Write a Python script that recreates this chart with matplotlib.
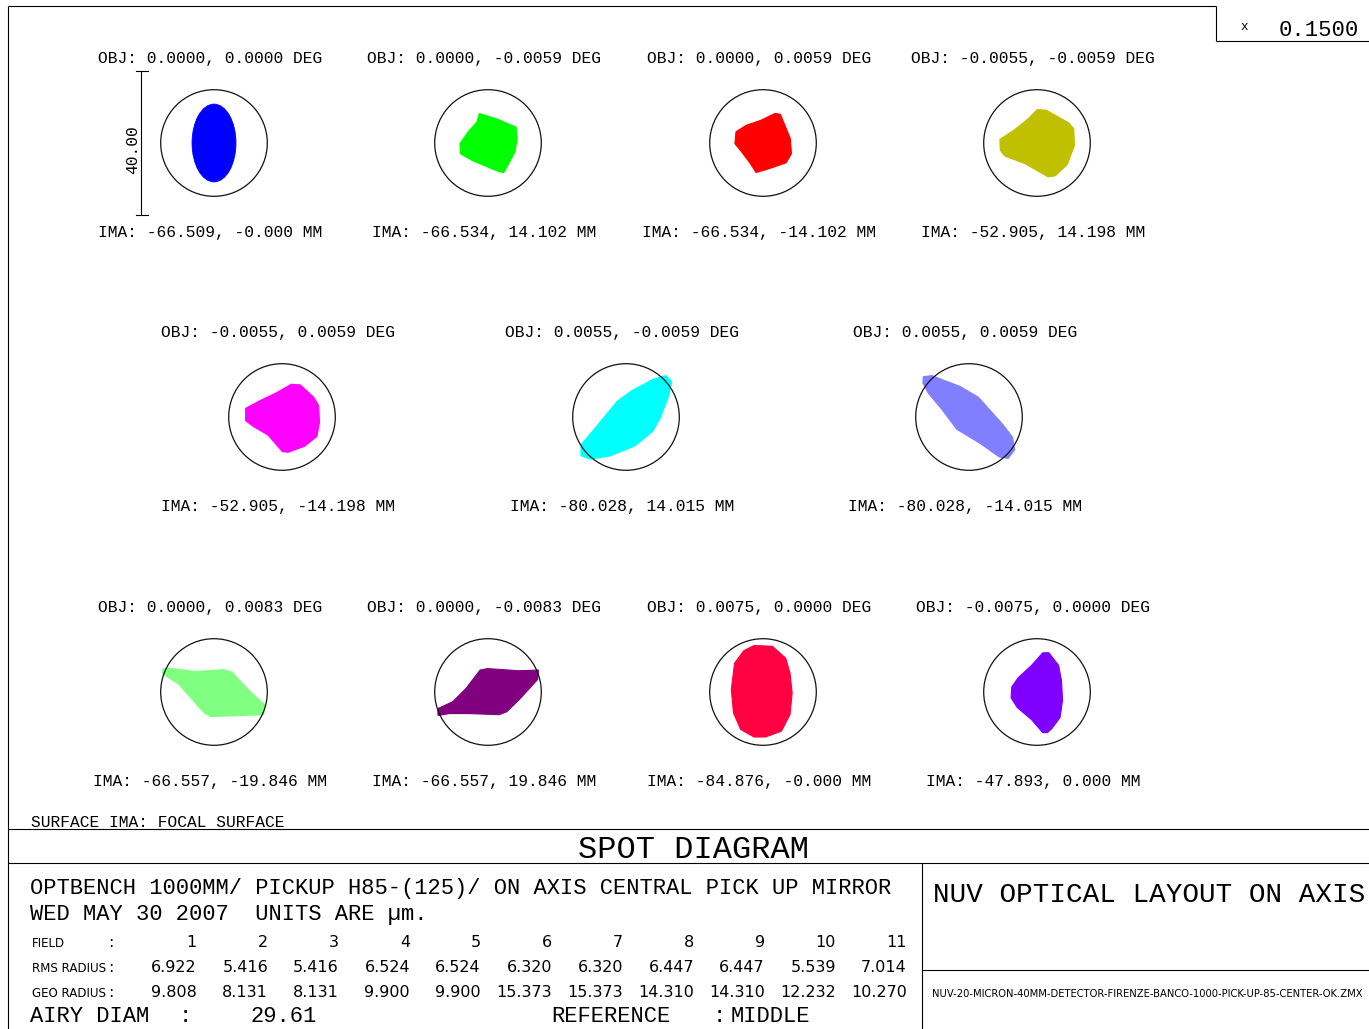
import matplotlib
matplotlib.use("Agg")
import matplotlib.pyplot as plt
from matplotlib.patches import Circle, Ellipse, Polygon
from matplotlib import font_manager

# ---------------- data ----------------
airy_diam_um = 29.61
scale_bar_um = 40.00
plot_scale = 0.1500

field_numbers = [1, 2, 3, 4, 5, 6, 7, 8, 9, 10, 11]
rms_radius = [6.922, 5.416, 5.416, 6.524, 6.524, 6.320, 6.320, 6.447, 6.447, 5.539, 7.014]
geo_radius = [9.808, 8.131, 8.131, 9.900, 9.900, 15.373, 15.373, 14.310, 14.310, 12.232, 10.270]

obj_labels = [
    "OBJ: 0.0000, 0.0000 DEG",
    "OBJ: 0.0000, -0.0059 DEG",
    "OBJ: 0.0000, 0.0059 DEG",
    "OBJ: -0.0055, -0.0059 DEG",
    "OBJ: -0.0055, 0.0059 DEG",
    "OBJ: 0.0055, -0.0059 DEG",
    "OBJ: 0.0055, 0.0059 DEG",
    "OBJ: 0.0000, 0.0083 DEG",
    "OBJ: 0.0000, -0.0083 DEG",
    "OBJ: 0.0075, 0.0000 DEG",
    "OBJ: -0.0075, 0.0000 DEG",
]
ima_labels = [
    "IMA: -66.509, -0.000 MM",
    "IMA: -66.534, 14.102 MM",
    "IMA: -66.534, -14.102 MM",
    "IMA: -52.905, 14.198 MM",
    "IMA: -52.905, -14.198 MM",
    "IMA: -80.028, 14.015 MM",
    "IMA: -80.028, -14.015 MM",
    "IMA: -66.557, -19.846 MM",
    "IMA: -66.557, 19.846 MM",
    "IMA: -84.876, -0.000 MM",
    "IMA: -47.893, 0.000 MM",
]
spot_colors = ["#0000ff", "#00ff00", "#ff0000", "#c0c000", "#ff00ff", "#00ffff",
               "#8080ff", "#80ff80", "#800080", "#ff0040", "#8000ff"]

# field 1: elliptical spot (full width, full height in um)
spot1_size = (12.2, 21.6)

# fields 2..11: spot outlines, (x, y) in um relative to the chief ray
spot2 = [(-2.4, 8.2), (2.4, 6.7), (7.8, 4.4), (8.1, 1.2), (7.5, -2.5), (4.4, -8.2),
         (2.9, -7.9), (-4.5, -4.8), (-7.6, -3.0), (-7.8, -0.2), (-5.5, 3.1), (-3.1, 5.8)]
spot3 = [(3.3, 8.2), (4.8, 8.0), (6.1, 4.9), (7.6, 1.2), (7.9, -3.0), (6.4, -5.5),
         (1.8, -7.1), (-1.9, -8.2), (-3.8, -5.3), (-6.3, -2.0), (-7.8, -0.2), (-7.5, 3.1),
         (-4.7, 4.9), (-0.6, 6.3)]
spot4 = [(0.1, 9.3), (2.6, 9.1), (8.8, 5.6), (10.2, 4.0), (10.4, -0.7), (8.4, -6.0),
         (5.1, -9.1), (3.1, -9.4), (-3.4, -5.7), (-9.0, -3.6), (-10.2, -2.0), (-10.3, 1.0),
         (-6.2, 3.7), (-2.5, 6.7)]
spot5 = [(2.6, 9.1), (5.1, 8.9), (8.8, 5.5), (10.2, 3.1), (10.4, -1.5), (9.7, -5.4),
         (6.3, -8.1), (1.7, -9.8), (0.1, -9.6), (-3.9, -5.0), (-8.0, -2.6), (-10.1, -1.0),
         (-10.1, 2.4), (-6.2, 4.5), (-1.6, 6.7)]
spot6 = [(11.1, 11.5), (12.7, 9.8), (11.8, 5.7), (9.5, -0.3), (7.4, -4.0), (2.5, -8.0),
         (-4.4, -10.8), (-9.9, -11.7), (-12.5, -10.8), (-12.5, -7.7), (-9.0, -3.6),
         (-4.4, 2.0), (-2.5, 4.3), (1.6, 7.3), (7.6, 10.5)]
spot7 = [(-12.7, 11.2), (-10.3, 11.5), (-6.7, 10.1), (-2.5, 8.5), (2.6, 5.5), (9.5, -2.2),
         (12.1, -5.6), (12.7, -9.1), (10.9, -11.5), (8.4, -11.1), (3.2, -7.4), (-3.4, -3.4),
         (-7.6, 2.2), (-11.3, 6.6), (-12.8, 9.4)]
spot8 = [(-14.2, 6.4), (-12.6, 6.6), (-5.2, 5.7), (2.7, 6.2), (5.0, 5.5), (9.6, 0.6),
         (14.0, -3.5), (13.8, -6.3), (5.9, -6.6), (-1.0, -6.8), (-2.9, -5.6), (-7.0, -1.0),
         (-9.8, 2.2), (-14.2, 5.0)]
spot9 = [(-2.2, 6.1), (-0.1, 6.5), (8.7, 5.9), (14.0, 6.1), (13.8, 3.5), (8.7, -2.1),
         (5.2, -5.5), (3.1, -6.3), (-5.2, -6.0), (-10.7, -6.0), (-13.9, -6.5), (-13.9, -4.6),
         (-9.8, -2.7), (-6.1, 1.0), (-3.8, 4.0)]
spot10 = [(-2.5, 12.9), (2.6, 12.7), (6.3, 9.4), (7.5, 5.3), (8.1, -0.3), (7.5, -6.3),
          (5.1, -10.9), (0.7, -12.5), (-2.5, -12.5), (-6.2, -10.4), (-8.2, -5.8),
          (-8.8, 0.7), (-7.9, 8.0), (-5.3, 11.5)]
spot11 = [(1.6, 10.9), (3.3, 10.9), (6.0, 7.4), (6.8, 3.2), (7.1, -2.3), (6.4, -7.1),
          (4.1, -10.2), (2.9, -11.3), (1.6, -11.3), (-1.5, -7.7), (-5.5, -4.3), (-7.2, -1.6),
          (-7.0, 1.4), (-5.2, 4.0), (-1.5, 7.4)]
spot_outlines = [None, spot2, spot3, spot4, spot5, spot6, spot7, spot8, spot9, spot10, spot11]

# ---------------- layout ----------------
W, H, DPI = 1369, 1029, 100
PX_PER_UM = 3.6
row_y = [143, 417, 692]
row_x = [[214, 488, 763, 1037], [282, 626, 969], [214, 488, 763, 1037]]
centers = [(x, y) for r, xs in enumerate(row_x) for x in xs for y in [row_y[r]]]

names = {f.name for f in font_manager.fontManager.ttflist}
MONO = ["Liberation Mono", "DejaVu Sans Mono"]
NARROW = ["Liberation Sans Narrow", "DejaVu Sans"] if "Liberation Sans Narrow" in names else ["DejaVu Sans"]

fig = plt.figure(figsize=(W / DPI, H / DPI), dpi=DPI)
bg = fig.add_axes([0, 0, 1, 1])
bg.set_xlim(0, W)
bg.set_ylim(H, 0)
bg.axis("off")

LW = 0.8
frame = [
    ((8, 8), (6, H)),
    ((8, 1216), (6, 6)),
    ((8, W), (829, 829)),
    ((8, W), (863, 863)),
    ((922, 922), (863, H)),
    ((922, W), (970, 970)),
    ((1216, 1216), (6, 41)),
    ((1216, W), (41, 41)),
]
for xs, ys in frame:
    bg.plot(xs, ys, color="black", lw=LW, solid_capstyle="butt")

SMALL = 11.7
# spot diagrams
S = 200
half = S / 2 / PX_PER_UM
for i, (cx, cy) in enumerate(centers):
    ax = fig.add_axes([(cx - S / 2) / W, 1 - (cy + S / 2) / H, S / W, S / H])
    ax.set_xlim(-half, half)
    ax.set_ylim(-half, half)
    ax.set_aspect("equal")
    ax.axis("off")
    col = spot_colors[i]
    if spot_outlines[i] is None:
        ax.add_patch(Ellipse((0, 0), spot1_size[0], spot1_size[1], facecolor=col,
                             edgecolor=col, lw=0.6))
    else:
        ax.add_patch(Polygon(spot_outlines[i], closed=True, facecolor=col,
                             edgecolor=col, lw=0.8))
    ax.add_patch(Circle((0, 0), airy_diam_um / 2, fill=False, edgecolor="#111111",
                        lw=0.9, zorder=5))
    if i == 0:
        bx = -20.3
        ax.plot([bx, bx], [-scale_bar_um / 2, scale_bar_um / 2], color="black", lw=LW)
        for yy in (-scale_bar_um / 2, scale_bar_um / 2):
            ax.plot([bx - 1.4, bx + 1.9], [yy, yy], color="black", lw=LW)
        ax.text(bx - 2.3, -1.9, f"{scale_bar_um:.2f}", rotation=90, ha="center",
                va="center", fontsize=SMALL, family=MONO)
    bg.text(cx - 4, cy - 80, obj_labels[i], ha="center", va="baseline",
            fontsize=SMALL, family=MONO)
    bg.text(cx - 4, cy + 94, ima_labels[i], ha="center", va="baseline",
            fontsize=SMALL, family=MONO)

# top-right scale box
bg.text(1244, 30, "x", ha="center", va="baseline", fontsize=9, family=MONO)
bg.text(1279, 36, f"{plot_scale:.4f}", ha="left", va="baseline", fontsize=16, family=MONO)

# bottom block
bg.text(31, 827, "SURFACE IMA: FOCAL SURFACE", ha="left", va="baseline",
        fontsize=SMALL, family=MONO)
bg.text(694, 858, "SPOT DIAGRAM", ha="center", va="baseline", fontsize=23, family=MONO)
bg.text(30, 894, "OPTBENCH 1000MM/ PICKUP H85-(125)/ ON AXIS CENTRAL PICK UP MIRROR",
        ha="left", va="baseline", fontsize=15.9, family=MONO)
bg.text(30, 920, "WED MAY 30 2007  UNITS ARE µm.", ha="left", va="baseline",
        fontsize=15.9, family=MONO)

TAB = 11.5
LAB = 8.6
row_names = ["FIELD", "RMS RADIUS", "GEO RADIUS"]
row_base = [947, 972, 997]
row_vals = [[str(v) for v in field_numbers],
            [f"{v:.3f}" for v in rms_radius],
            [f"{v:.3f}" for v in geo_radius]]
for name, yb, vals in zip(row_names, row_base, row_vals):
    bg.text(32, yb, name, ha="left", va="baseline", fontsize=LAB, family=NARROW)
    bg.text(111, yb, ":", ha="center", va="baseline", fontsize=TAB, family=NARROW)
    for j, v in enumerate(vals):
        bg.text(197 + 71 * j, yb, v, ha="right", va="baseline", fontsize=TAB, family=NARROW)

bg.text(30, 1022, "AIRY DIAM", ha="left", va="baseline", fontsize=15.9, family=MONO)
bg.text(185, 1022, ":", ha="center", va="baseline", fontsize=15.9, family=MONO)
bg.text(250, 1022, f"{airy_diam_um:.2f}", ha="left", va="baseline", fontsize=15.9, family=MONO)
bg.text(551, 1022, "REFERENCE", ha="left", va="baseline", fontsize=15.9, family=MONO)
bg.text(719, 1022, ":", ha="center", va="baseline", fontsize=15.9, family=MONO)
bg.text(731, 1022, "MIDDLE", ha="left", va="baseline", fontsize=15.9, family=MONO)

bg.text(933, 902, "NUV OPTICAL LAYOUT ON AXIS", ha="left", va="baseline",
        fontsize=19.9, family=MONO)
bg.text(932, 997, "NUV-20-MICRON-40MM-DETECTOR-FIRENZE-BANCO-1000-PICK-UP-85-CENTER-OK.ZMX",
        ha="left", va="baseline", fontsize=7.2, family=NARROW)

fig.savefig("out.png", dpi=DPI, facecolor="white")
